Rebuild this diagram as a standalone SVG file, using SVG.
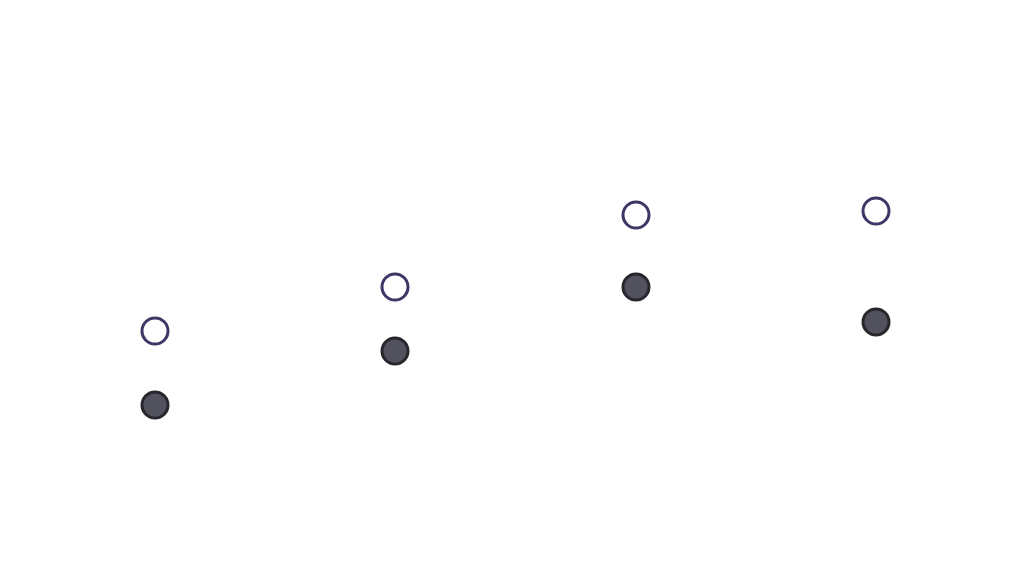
<svg xmlns="http://www.w3.org/2000/svg" width="1032" height="564" viewBox="0 0 1032 564"><style>.o{fill:#fff;stroke:#3f3566;stroke-width:3}.f{fill:#52525e;stroke:#26262c;stroke-width:3}</style><rect width="1032" height="564" fill="#fff"/><g id="connectors"/><g id="n1"><circle class="o" cx="155" cy="331" r="13"/></g><g id="n2"><circle class="f" cx="155" cy="405" r="13"/></g><g id="n3"><circle class="o" cx="395" cy="287" r="13"/></g><g id="n4"><circle class="f" cx="395" cy="351" r="13"/></g><g id="n5"><circle class="o" cx="636" cy="215" r="13"/></g><g id="n6"><circle class="f" cx="636" cy="287" r="13"/></g><g id="n7"><circle class="o" cx="876" cy="211" r="13"/></g><g id="n8"><circle class="f" cx="876" cy="322" r="13"/></g></svg>
